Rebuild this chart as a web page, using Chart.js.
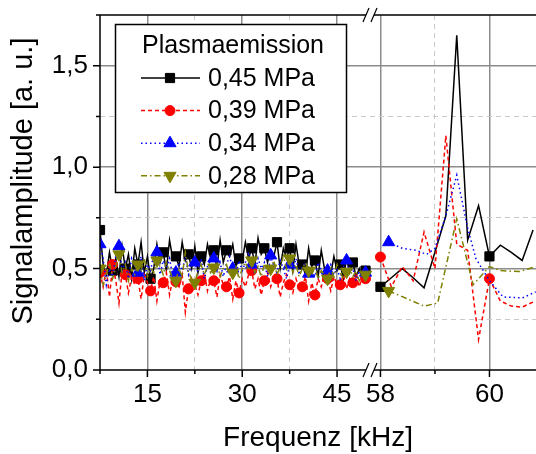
<!DOCTYPE html>
<html>
<head>
<meta charset="utf-8">
<script src="https://cdn.jsdelivr.net/npm/chart.js@4.4.0/dist/chart.umd.min.js"></script>
<style>
html, body { margin: 0; padding: 0; background: #fff; }
#myChart { display: block; }
</style>
</head>
<body>
<canvas id="myChart" width="536" height="454"></canvas>
<script>
// --- data ---
var legendTitle = "Plasmaemission";
var seriesNames = ["0,45 MPa", "0,39 MPa", "0,34 MPa", "0,28 MPa"];

// left part of the broken axis (kHz)
var freqLeft = [7.5, 8, 8.5, 9, 9.5, 10, 10.5, 11, 11.5, 12, 12.5, 13, 13.5, 14, 14.5,
    15, 15.5, 16, 16.5, 17, 17.5, 18, 18.5, 19, 19.5, 20, 20.5, 21, 21.5, 22, 22.5,
    23, 23.5, 24, 24.5, 25, 25.5, 26, 26.5, 27, 27.5, 28, 28.5, 29, 29.5, 30, 30.5,
    31, 31.5, 32, 32.5, 33, 33.5, 34, 34.5, 35, 35.5, 36, 36.5, 37, 37.5, 38, 38.5,
    39, 39.5, 40, 40.5, 41, 41.5, 42, 42.5, 43, 43.5, 44, 44.5, 45, 45.5, 46, 46.5,
    47, 47.5, 48, 48.5, 49, 49.5, 50];

var ampLeft045 = [0.69, 0.52, 0.47, 0.58, 0.49, 0.55, 0.46, 0.61, 0.50, 0.57, 0.45, 0.60, 0.52, 0.63, 0.48,
    0.56, 0.45, 0.50, 0.62, 0.53, 0.58, 0.49, 0.64, 0.55, 0.56, 0.51, 0.63, 0.54, 0.57, 0.50, 0.61,
    0.48, 0.56, 0.52, 0.62, 0.55, 0.59, 0.50, 0.64, 0.53, 0.59, 0.56, 0.62, 0.51, 0.55, 0.54, 0.63,
    0.55, 0.60, 0.52, 0.65, 0.57, 0.60, 0.53, 0.59, 0.56, 0.63, 0.50, 0.60, 0.55, 0.60, 0.49, 0.62,
    0.52, 0.52, 0.47, 0.60, 0.51, 0.54, 0.46, 0.59, 0.50, 0.46, 0.47, 0.56, 0.49, 0.52, 0.45, 0.55,
    0.48, 0.53, 0.46, 0.50, 0.44, 0.49, 0.47];

var ampLeft039 = [0.48, 0.41, 0.50, 0.36, 0.52, 0.44, 0.33, 0.49, 0.47, 0.38, 0.46, 0.42, 0.45, 0.35, 0.47,
    0.43, 0.39, 0.46, 0.34, 0.44, 0.43, 0.48, 0.37, 0.45, 0.435, 0.41, 0.47, 0.285, 0.40, 0.46, 0.42,
    0.37, 0.44, 0.48, 0.39, 0.45, 0.44, 0.36, 0.47, 0.42, 0.41, 0.46, 0.35, 0.44, 0.38, 0.45, 0.41,
    0.47, 0.49, 0.40, 0.45, 0.37, 0.44, 0.48, 0.41, 0.46, 0.45, 0.36, 0.43, 0.47, 0.42, 0.38, 0.45,
    0.40, 0.41, 0.46, 0.34, 0.43, 0.37, 0.45, 0.41, 0.47, 0.45, 0.39, 0.46, 0.42, 0.42, 0.47, 0.40,
    0.45, 0.43, 0.48, 0.41, 0.46, 0.45, 0.43];

var ampLeft034 = [0.62, 0.55, 0.42, 0.50, 0.46, 0.56, 0.61, 0.49, 0.53, 0.45, 0.55, 0.51, 0.48, 0.56, 0.44,
    0.52, 0.49, 0.57, 0.58, 0.47, 0.54, 0.50, 0.55, 0.46, 0.48, 0.53, 0.49, 0.56, 0.47, 0.52, 0.53,
    0.48, 0.55, 0.45, 0.51, 0.54, 0.55, 0.49, 0.53, 0.46, 0.52, 0.56, 0.50, 0.47, 0.54, 0.49, 0.53,
    0.58, 0.52, 0.47, 0.55, 0.50, 0.53, 0.46, 0.565, 0.51, 0.48, 0.54, 0.50, 0.45, 0.52, 0.49, 0.55,
    0.47, 0.51, 0.53, 0.475, 0.50, 0.46, 0.53, 0.49, 0.45, 0.49, 0.52, 0.47, 0.50, 0.45, 0.51, 0.54,
    0.48, 0.50, 0.44, 0.49, 0.46, 0.48, 0.45];

var ampLeft028 = [0.50, 0.42, 0.47, 0.53, 0.45, 0.51, 0.57, 0.48, 0.52, 0.44, 0.50, 0.47, 0.52, 0.49, 0.55,
    0.46, 0.50, 0.48, 0.54, 0.51, 0.47, 0.53, 0.49, 0.45, 0.44, 0.50, 0.46, 0.58, 0.48, 0.45, 0.43,
    0.49, 0.52, 0.47, 0.51, 0.48, 0.505, 0.53, 0.46, 0.50, 0.52, 0.47, 0.48, 0.51, 0.45, 0.50, 0.53,
    0.49, 0.54, 0.48, 0.51, 0.46, 0.52, 0.49, 0.50, 0.54, 0.47, 0.51, 0.56, 0.50, 0.55, 0.48, 0.52,
    0.46, 0.50, 0.53, 0.49, 0.47, 0.51, 0.45, 0.49, 0.47, 0.45, 0.50, 0.46, 0.52, 0.48, 0.45, 0.485,
    0.50, 0.46, 0.49, 0.44, 0.48, 0.47, 0.45];

// right part of the broken axis (kHz)
var freqRight045 = [58.0, 58.2, 58.4, 58.6, 58.8, 59.0, 59.2, 59.4, 59.6, 59.8, 60.0, 60.2, 60.4, 60.6, 60.8];
var ampRight045 = [0.41, 0.455, 0.50, 0.455, 0.405, 0.58, 0.76, 1.65, 0.64, 0.81, 0.56, 0.615, 0.58, 0.54, 0.69];

var freqRight039 = [58.0, 58.2, 58.4, 58.6, 58.8, 59.0, 59.2, 59.4, 59.6, 59.8, 60.0, 60.2, 60.4, 60.6, 60.8];
var ampRight039 = [0.557, 0.41, 0.51, 0.44, 0.68, 0.50, 1.155, 0.62, 0.59, 0.15, 0.45, 0.34, 0.315, 0.31, 0.335];

var freqRight034 = [58.15, 58.4, 58.65, 58.85, 59.0, 59.2, 59.4, 59.6, 59.75, 60.0, 60.25, 60.6, 60.85];
var ampRight034 = [0.63, 0.60, 0.59, 0.57, 0.60, 0.76, 0.96, 0.70, 0.55, 0.44, 0.36, 0.355, 0.385];

var freqRight028 = [58.15, 58.5, 58.8, 59.05, 59.4, 59.7, 60.0, 60.2, 60.55, 60.85];
var ampRight028 = [0.39, 0.35, 0.315, 0.33, 0.745, 0.42, 0.51, 0.49, 0.485, 0.51];

var xLabelsLeft = [15, 30, 45];
var xLabelsRight = [58, 60];

// --- styles ---
var FONT = "'Liberation Sans', Arial, sans-serif";
var seriesStyle = [
    { color: "#000000", dash: [], width: 1.5, point: "rect", rot: 0, radius: 6.5, everyL: 4, everyR: 10 },
    { color: "#ff0000", dash: [4, 3], width: 1.5, point: "circle", rot: 0, radius: 5, everyL: 4, everyR: 10 },
    { color: "#0000ff", dash: [1.5, 3], width: 1.5, point: "triangle", rot: 0, radius: 7, everyL: 6, everyR: 100 },
    { color: "#808000", dash: [6, 3, 1.5, 3], width: 1.5, point: "triangle", rot: 180, radius: 7, everyL: 6, everyR: 100 }
];

function toPoints(xs, ys)
{
    var pts = [];
    for (var i = 0; i < xs.length; i++)
        pts.push({ x: xs[i], y: ys[i] });
    return pts;
}

function makeDataset(k, xs, ys, axis, every)
{
    var st = seriesStyle[k];
    return {
        label: seriesNames[k],
        data: toPoints(xs, ys),
        xAxisID: axis,
        yAxisID: "y",
        borderColor: st.color,
        backgroundColor: st.color,
        borderWidth: st.width,
        borderDash: st.dash,
        tension: 0,
        pointStyle: st.point,
        pointRotation: st.rot,
        pointBorderWidth: 1,
        pointRadius: function (c) { return c.dataIndex % every === 0 ? st.radius : 0; },
        pointHoverRadius: 0,
        order: 3 - k
    };
}

var datasets = [
    makeDataset(0, freqLeft, ampLeft045, "xl", seriesStyle[0].everyL),
    makeDataset(1, freqLeft, ampLeft039, "xl", seriesStyle[1].everyL),
    makeDataset(2, freqLeft, ampLeft034, "xl", seriesStyle[2].everyL),
    makeDataset(3, freqLeft, ampLeft028, "xl", seriesStyle[3].everyL),
    makeDataset(0, freqRight045, ampRight045, "xr", seriesStyle[0].everyR),
    makeDataset(1, freqRight039, ampRight039, "xr", seriesStyle[1].everyR),
    makeDataset(2, freqRight034, ampRight034, "xr", seriesStyle[2].everyR),
    makeDataset(3, freqRight028, ampRight028, "xr", seriesStyle[3].everyR)
];

function near(a, b) { return Math.abs(a - b) < 1e-6; }
function isMajorY(v) { return near(v * 2, Math.round(v * 2)); }
function isLabelX(v, list)
{
    for (var i = 0; i < list.length; i++)
        if (near(v, list[i])) return true;
    return false;
}

function xScale(min, max, weight, labels, edge)
{
    return {
        type: "linear",
        position: "bottom",
        stack: "freq",
        stackWeight: weight,
        min: min,
        max: max,
        afterFit: function (s) {
            s.height = 84;
            s.paddingLeft = 0;
            s.paddingRight = 0;
        },
        border: {
            display: false,
            dash: function (c) { return c.tick && !isLabelX(c.tick.value, labels) ? [5, 4] : []; }
        },
        grid: {
            drawTicks: false,
            lineWidth: function (c) { return c.tick && isLabelX(c.tick.value, labels) ? 1.5 : 1; },
            color: function (c) {
                if (!c.tick || near(c.tick.value, edge)) return "rgba(0,0,0,0)";
                return isLabelX(c.tick.value, labels) ? "#8c8c8c" : "#c8c8c8";
            }
        },
        ticks: {
            stepSize: labels === xLabelsLeft ? 7.5 : 1,
            includeBounds: false,
            autoSkip: false,
            maxRotation: 0,
            padding: 9,
            color: "#000",
            font: { family: FONT, size: 26 },
            callback: function (v) { return isLabelX(v, labels) ? String(v) : ""; }
        }
    };
}

// frame, tick marks, axis break, titles and legend
function drawExtras(chart)
{
    var c = chart.ctx, a = chart.chartArea;
    var ys = chart.scales.y, xl = chart.scales.xl, xr = chart.scales.xr;
    var gapL = 366, gapR = 374;
    c.save();
    c.strokeStyle = "#000";
    c.lineWidth = 1.5;
    c.beginPath();
    c.moveTo(a.left, a.top); c.lineTo(a.left, a.bottom);
    c.moveTo(a.left, a.bottom); c.lineTo(gapL, a.bottom);
    c.moveTo(gapR, a.bottom); c.lineTo(a.right, a.bottom);
    c.moveTo(a.left, a.top); c.lineTo(gapL, a.top);
    c.moveTo(gapR, a.top); c.lineTo(a.right, a.top);
    // tick marks
    ys.ticks.forEach(function (t) {
        var py = ys.getPixelForValue(t.value);
        var len = isMajorY(t.value) ? 7 : 4;
        c.moveTo(a.left - len, py); c.lineTo(a.left, py);
    });
    [[xl, xLabelsLeft], [xr, xLabelsRight]].forEach(function (p) {
        p[0].ticks.forEach(function (t) {
            var px = p[0].getPixelForValue(t.value);
            var len = isLabelX(t.value, p[1]) ? 7 : 4;
            c.moveTo(px, a.bottom); c.lineTo(px, a.bottom + len);
        });
    });
    c.stroke();
    // axis break marks
    c.lineWidth = 1.2;
    c.beginPath();
    [a.top, a.bottom].forEach(function (yy) {
        c.moveTo(gapL - 3, yy + 7); c.lineTo(gapL + 3, yy - 7);
        c.moveTo(gapR - 3, yy + 7); c.lineTo(gapR + 3, yy - 7);
    });
    c.stroke();

    // axis titles
    c.fillStyle = "#000";
    c.textAlign = "center";
    c.textBaseline = "middle";
    c.font = "28px " + FONT;
    c.fillText("Frequenz [kHz]", (a.left + a.right) / 2, 438);
    c.save();
    c.translate(24, 181);
    c.rotate(-Math.PI / 2);
    c.font = "29px " + FONT;
    c.fillText("Signalamplitude [a. u.]", 0, 0);
    c.restore();

    // legend box
    var bx = 115.5, by = 24.5, bw = 231, bh = 168;
    c.fillStyle = "#fff";
    c.fillRect(bx, by, bw, bh);
    c.lineWidth = 1.5;
    c.strokeStyle = "#000";
    c.strokeRect(bx, by, bw, bh);
    c.fillStyle = "#000";
    c.textAlign = "left";
    c.font = "25px " + FONT;
    c.fillText(legendTitle, 142, 46);
    for (var i = 0; i < seriesNames.length; i++) {
        var st = seriesStyle[i];
        var y = 78 + i * 32.6;
        c.strokeStyle = st.color;
        c.fillStyle = st.color;
        c.lineWidth = st.width;
        c.setLineDash(st.dash);
        c.beginPath(); c.moveTo(141, y); c.lineTo(200, y); c.stroke();
        c.setLineDash([]);
        c.lineWidth = 1;
        Chart.helpers.drawPoint(c, { pointStyle: st.point, rotation: st.rot, radius: st.radius, borderWidth: 1 }, 170, y);
        c.fillStyle = "#000";
        c.fillText(seriesNames[i], 208, y + 1);
    }
    c.restore();
}

var ctx = document.getElementById("myChart").getContext("2d");
var myChart = new Chart(ctx, {
    type: "line",
    data: { datasets: datasets },
    options: {
        responsive: false,
        animation: false,
        events: [],
        layout: { autoPadding: false, padding: { top: 15, right: 0, left: 0, bottom: 0 } },
        plugins: { legend: { display: false }, tooltip: { enabled: false } },
        scales: {
            xl: xScale(7.5, 51, 275, xLabelsLeft, 7.5),
            xr: xScale(57.9, 60.854, 161, xLabelsRight, -1),
            y: {
                type: "linear",
                position: "left",
                min: 0,
                max: 1.75,
                afterFit: function (s) {
                    s.width = 100;
                    s.paddingTop = 0;
                    s.paddingBottom = 0;
                },
                border: {
                    display: false,
                    dash: function (c) { return c.tick && !isMajorY(c.tick.value) ? [5, 4] : []; }
                },
                grid: {
                    drawTicks: false,
                    lineWidth: function (c) { return c.tick && isMajorY(c.tick.value) ? 1.5 : 1; },
                    color: function (c) {
                        if (!c.tick || c.tick.value <= 0 || c.tick.value >= 1.75) return "rgba(0,0,0,0)";
                        return isMajorY(c.tick.value) ? "#8c8c8c" : "#c8c8c8";
                    }
                },
                ticks: {
                    stepSize: 0.25,
                    autoSkip: false,
                    padding: 12,
                    color: "#000",
                    font: { family: FONT, size: 26 },
                    callback: function (v) { return isMajorY(v) ? v.toFixed(1).replace(".", ",") : ""; }
                }
            }
        }
    },
    plugins: [{ id: "extras", afterDraw: drawExtras }]
});
</script>
</body>
</html>
